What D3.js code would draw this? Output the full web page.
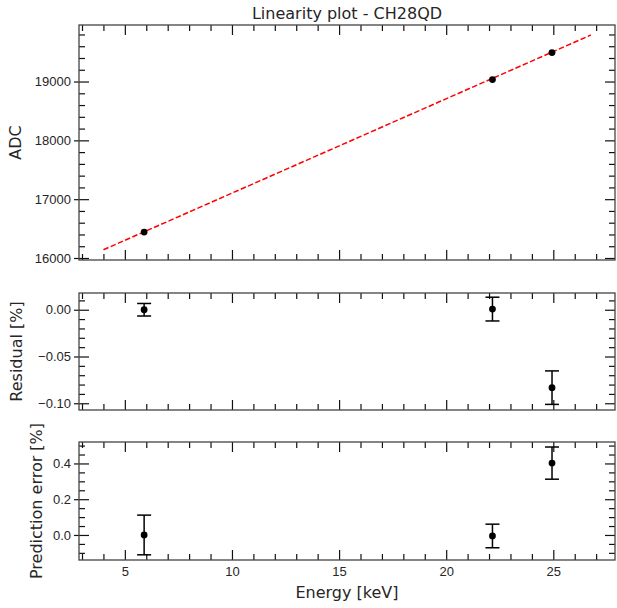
<!DOCTYPE html>
<html>
<head>
<meta charset="utf-8">
<script src="https://cdn.jsdelivr.net/npm/d3@7"></script>
<style>
	body { margin: 0; background: #fff; }
	svg { font-family: "DejaVu Sans", sans-serif; }
	.axis text { font-size: 13px; fill: #262626; }
	.axis path { display: none; }
	.axis line { stroke: #111; stroke-width: 1.2; }
</style>
</head>
<body>
<div id="chart"></div>
<script>
// measured points (keV, ADC)
var energies = [5.9, 22.16, 24.94];
var adcValues = [16441, 19034, 19492];

// fitted line endpoints
var fitEnergy = [4.0, 26.75];
var fitAdc = [16140, 19790];

// residuals [%] and their errors
var residuals = [0.0, 0.0007, -0.0833];
var residualErrors = [0.0067, 0.0127, 0.0179];

// prediction error [%] and their errors
var predErrors = [0.0, -0.0056, 0.402];
var predErrorBars = [0.111, 0.066, 0.09];

// tick values
var energyTicks = [5, 10, 15, 20, 25];
var energyMinorTicks = [3, 4, 6, 7, 8, 9, 11, 12, 13, 14, 16, 17, 18, 19, 21, 22, 23, 24, 26, 27];
var adcTicks = [16000, 17000, 18000, 19000];
var adcMinorTicks = [16200, 16400, 16600, 16800, 17200, 17400, 17600, 17800, 18200, 18400, 18600, 18800, 19200, 19400, 19600, 19800];
var residualTicks = [0.0, -0.05, -0.10];
var residualMinorTicks = [0.01, -0.01, -0.02, -0.03, -0.04, -0.06, -0.07, -0.08, -0.09];
var predTicks = [0.0, 0.2, 0.4];
var predMinorTicks = [-0.1, -0.05, 0.05, 0.1, 0.15, 0.25, 0.3, 0.35, 0.45, 0.5];

var width = 617, height = 608,
	left = 79, right = 615,
	panels = {
		top: {y0: 25, y1: 260},
		mid: {y0: 293, y1: 410},
		bot: {y0: 442, y1: 560}
	};

var svg = d3.select("#chart").append("svg")
	.attr("width", width)
	.attr("height", height);

var x = d3.scaleLinear().domain([2.86, 27.88]).range([left, right]);

var yAdc = d3.scaleLinear().domain([15966, 19961]).range([panels.top.y1, panels.top.y0]);
var yRes = d3.scaleLinear().domain([-0.1072, 0.0179]).range([panels.mid.y1, panels.mid.y0]);
var yPred = d3.scaleLinear().domain([-0.14, 0.52]).range([panels.bot.y1, panels.bot.y0]);

var minus = function (s) { return s.replace("-", "\u2212"); };

function drawFrame(y, p, majors, minors, fmt, showX) {
	var h = p.y1 - p.y0;

	// left: labels + major ticks inward
	svg.append("g").attr("class", "axis")
		.attr("transform", "translate(" + left + ",0)")
		.call(d3.axisLeft(y).tickValues(majors).tickSizeInner(-10).tickSizeOuter(0).tickPadding(8)
			.tickFormat(function (d) { return minus(fmt(d)); }));
	// left: short outward part of majors
	svg.append("g").attr("class", "axis")
		.attr("transform", "translate(" + left + ",0)")
		.call(d3.axisLeft(y).tickValues(majors).tickSize(5).tickFormat(""));
	svg.append("g").attr("class", "axis")
		.attr("transform", "translate(" + left + ",0)")
		.call(d3.axisLeft(y).tickValues(minors).tickSize(-6).tickFormat(""));

	// right
	svg.append("g").attr("class", "axis")
		.attr("transform", "translate(" + right + ",0)")
		.call(d3.axisRight(y).tickValues(majors).tickSize(-10).tickFormat(""));
	svg.append("g").attr("class", "axis")
		.attr("transform", "translate(" + right + ",0)")
		.call(d3.axisRight(y).tickValues(minors).tickSize(-6).tickFormat(""));

	// top
	svg.append("g").attr("class", "axis")
		.attr("transform", "translate(0," + p.y0 + ")")
		.call(d3.axisTop(x).tickValues(energyTicks).tickSize(-10).tickFormat(""));
	svg.append("g").attr("class", "axis")
		.attr("transform", "translate(0," + p.y0 + ")")
		.call(d3.axisTop(x).tickValues(energyMinorTicks).tickSize(-6).tickFormat(""));

	// bottom
	var bx = svg.append("g").attr("class", "axis")
		.attr("transform", "translate(0," + p.y1 + ")");
	if (showX) {
		bx.call(d3.axisBottom(x).tickValues(energyTicks).tickSizeInner(-10).tickSizeOuter(0).tickPadding(7));
	} else {
		bx.call(d3.axisBottom(x).tickValues(energyTicks).tickSize(-10).tickFormat(""));
	}
	svg.append("g").attr("class", "axis")
		.attr("transform", "translate(0," + p.y1 + ")")
		.call(d3.axisBottom(x).tickValues(energyMinorTicks).tickSize(-6).tickFormat(""));

	// frame
	svg.append("rect")
		.attr("x", left)
		.attr("y", p.y0)
		.attr("width", right - left)
		.attr("height", h)
		.attr("fill", "none")
		.attr("stroke", "#444")
		.attr("stroke-width", 1.3);
}

function drawErrorbars(y, values, errs) {
	var g = svg.append("g");
	energies.forEach(function (e, i) {
		var cx = x(e), lo = y(values[i] - errs[i]), hi = y(values[i] + errs[i]);
		g.append("line")
			.attr("x1", cx).attr("x2", cx)
			.attr("y1", lo).attr("y2", hi)
			.attr("stroke", "black").attr("stroke-width", 1.5);
		[lo, hi].forEach(function (yy) {
			g.append("line")
				.attr("x1", cx - 7).attr("x2", cx + 7)
				.attr("y1", yy).attr("y2", yy)
				.attr("stroke", "black").attr("stroke-width", 1.5);
		});
		g.append("circle")
			.attr("cx", cx).attr("cy", y(values[i]))
			.attr("r", 3.4).attr("fill", "black");
	});
}

// top panel
drawFrame(yAdc, panels.top, adcTicks, adcMinorTicks, d3.format("d"), false);

svg.append("path")
	.datum(d3.zip(fitEnergy, fitAdc))
	.attr("d", d3.line().x(function (d) { return x(d[0]); }).y(function (d) { return yAdc(d[1]); }))
	.attr("fill", "none")
	.attr("stroke", "red")
	.attr("stroke-width", 1.5)
	.attr("stroke-dasharray", "5.5,2.4");

svg.append("g").selectAll("circle")
	.data(energies)
	.enter().append("circle")
	.attr("cx", function (d) { return x(d); })
	.attr("cy", function (d, i) { return yAdc(adcValues[i]); })
	.attr("r", 3.4)
	.attr("fill", "black");

// middle panel
drawFrame(yRes, panels.mid, residualTicks, residualMinorTicks, d3.format(".2f"), false);
drawErrorbars(yRes, residuals, residualErrors);

// bottom panel
drawFrame(yPred, panels.bot, predTicks, predMinorTicks, d3.format(".1f"), true);
drawErrorbars(yPred, predErrors, predErrorBars);

// texts
svg.append("text")
	.attr("x", (left + right) / 2)
	.attr("y", 19)
	.attr("text-anchor", "middle")
	.attr("font-size", 16)
	.attr("fill", "#262626")
	.text("Linearity plot - CH28QD");

svg.append("text")
	.attr("x", (left + right) / 2)
	.attr("y", 598)
	.attr("text-anchor", "middle")
	.attr("font-size", 16)
	.attr("fill", "#262626")
	.text("Energy [keV]");

function yLabel(txt, cx, cy) {
	svg.append("text")
		.attr("transform", "translate(" + cx + "," + cy + ") rotate(-90)")
		.attr("text-anchor", "middle")
		.attr("dy", "0.35em")
		.attr("font-size", 16)
		.attr("fill", "#262626")
		.text(txt);
}
yLabel("ADC", 15, (panels.top.y0 + panels.top.y1) / 2);
yLabel("Residual [%]", 16, (panels.mid.y0 + panels.mid.y1) / 2);
yLabel("Prediction error [%]", 36, (panels.bot.y0 + panels.bot.y1) / 2);
</script>
</body>
</html>
